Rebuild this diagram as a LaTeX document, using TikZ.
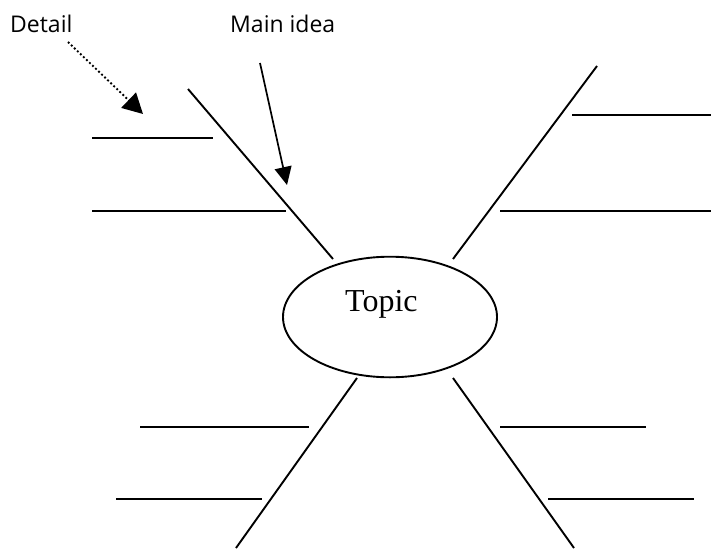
\documentclass[tikz,border=0pt]{standalone}
\usepackage{fontspec}
\setmainfont{Liberation Serif}
\newfontfamily\labelfont{Open Sans}
\usetikzlibrary{arrows.meta,shapes.geometric}
\tikzset{
  bone/.style={line width=1.9pt, line cap=butt},
  lbl/.style={font=\labelfont\fontsize{23}{27}\selectfont, anchor=base west, inner sep=0pt},
  mainarrow/.style={line width=1.7pt, -{Triangle[length=18pt,width=17pt]}},
  detailarrow/.style={line width=1.9pt, dash pattern=on 1.9pt off 2.3pt, -{Triangle[length=20pt,width=21pt]}},
}
\begin{document}
\begin{tikzpicture}[x=1pt,y=-1pt]
\useasboundingbox (0,0) rectangle (711,548);
% topic
\node[draw, ellipse, line width=1.9pt, minimum width=214pt, minimum height=120.6pt, inner sep=0pt] (topic) at (390,317) {};
\node[anchor=base west, inner sep=0pt, font=\fontsize{32}{36}\selectfont] (topictext) at (345,311.7) {Topic};
% labels
\node[lbl] (detail) at (10,33) {Detail};
\node[lbl] (mainidea) at (230,33) {Main idea};
% spokes
\coordinate (ula) at (188,89);  \coordinate (ulb) at (333,259);
\coordinate (ura) at (597,66);  \coordinate (urb) at (453,259);
\coordinate (lla) at (357,378); \coordinate (llb) at (236,548);
\coordinate (lra) at (453,378); \coordinate (lrb) at (574,548);
\draw[bone] (ula) -- (ulb);
\draw[bone] (ura) -- (urb);
\draw[bone] (lla) -- (llb);
\draw[bone] (lra) -- (lrb);
% detail lines
\coordinate (h1a) at (92,138);   \coordinate (h1b) at (213,138);
\coordinate (h2a) at (92,211);   \coordinate (h2b) at (286,211);
\coordinate (h3a) at (572,115);  \coordinate (h3b) at (711,115);
\coordinate (h4a) at (500,211);  \coordinate (h4b) at (711,211);
\coordinate (h5a) at (140,427);  \coordinate (h5b) at (309,427);
\coordinate (h6a) at (116,499);  \coordinate (h6b) at (262,499);
\coordinate (h7a) at (500,427);  \coordinate (h7b) at (646,427);
\coordinate (h8a) at (548,499);  \coordinate (h8b) at (694,499);
\foreach \i in {1,...,8} {\draw[bone] (h\i a) -- (h\i b);}
% arrows
\coordinate (ma) at (260,63);  \coordinate (mb) at (287,185);
\coordinate (da) at (68,42);   \coordinate (db) at (143,114);
\draw[mainarrow] (ma) -- (mb);
\draw[detailarrow] (da) -- (db);
\end{tikzpicture}
\end{document}
